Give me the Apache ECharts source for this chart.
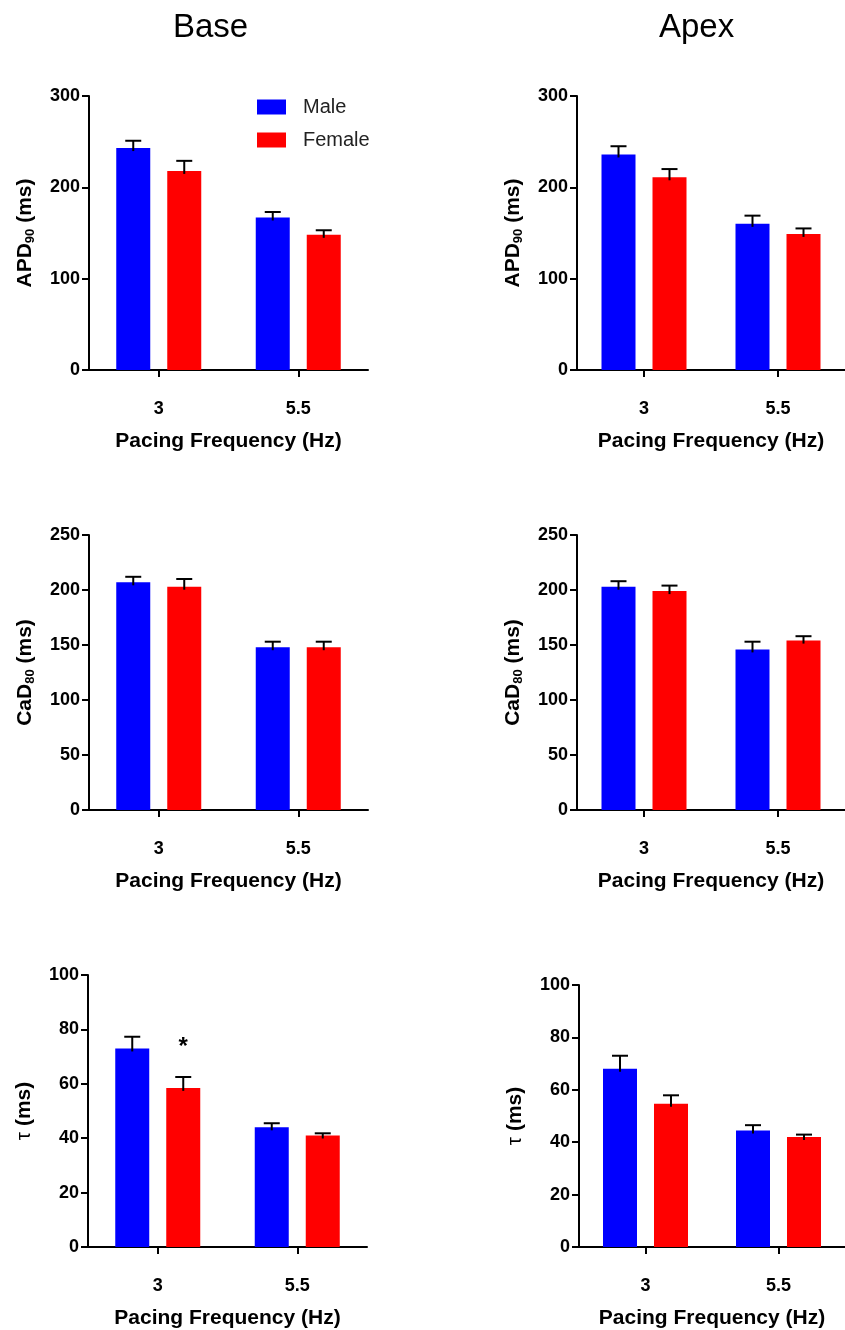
<!DOCTYPE html>
<html>
<head>
<meta charset="utf-8">
<script src="https://cdn.jsdelivr.net/npm/echarts@6/dist/echarts.min.js"></script>
<style>
html,body{margin:0;padding:0;background:#fff;}
#chart{width:845px;height:1330px;}
</style>
</head>
<body>
<div id="chart"></div>
<script>
// ---- data ----
var categories = ['3', '5.5'];
var seriesNames = ['Male', 'Female'];
var columnTitles = ['Base', 'Apex'];

var baseAPD90Male = [243, 167];
var baseAPD90MaleErr = [8, 6];
var baseAPD90Female = [218, 148];
var baseAPD90FemaleErr = [11, 5];

var apexAPD90Male = [236, 160];
var apexAPD90MaleErr = [9, 9];
var apexAPD90Female = [211, 149];
var apexAPD90FemaleErr = [9, 6];

var baseCaD80Male = [207, 148];
var baseCaD80MaleErr = [5, 5];
var baseCaD80Female = [203, 148];
var baseCaD80FemaleErr = [7, 5];

var apexCaD80Male = [203, 146];
var apexCaD80MaleErr = [5, 7];
var apexCaD80Female = [199, 154];
var apexCaD80FemaleErr = [5, 4];

var baseTauMale = [73, 44];
var baseTauMaleErr = [4.3, 1.5];
var baseTauFemale = [58.5, 41];
var baseTauFemaleErr = [4, 0.8];

var apexTauMale = [68, 44.5];
var apexTauMaleErr = [5, 2];
var apexTauFemale = [54.7, 42];
var apexTauFemaleErr = [3.2, 0.9];

// significance marks: panel index, category index, series index
var sigMarks = [{panel: 4, cat: 0, ser: 1, text: '*'}];

var yMax = [300, 300, 250, 250, 100, 100];
var yInterval = [100, 100, 50, 50, 20, 20];
var yTitles = ['{b|APD}{sub|90}{b| (ms)}', '{b|APD}{sub|90}{b| (ms)}',
               '{b|CaD}{sub|80}{b| (ms)}', '{b|CaD}{sub|80}{b| (ms)}',
               '{t|τ}{b| (ms)}', '{t|τ}{b| (ms)}'];
var xTitle = 'Pacing Frequency (Hz)';

var panels = [
  [baseAPD90Male, baseAPD90MaleErr, baseAPD90Female, baseAPD90FemaleErr],
  [apexAPD90Male, apexAPD90MaleErr, apexAPD90Female, apexAPD90FemaleErr],
  [baseCaD80Male, baseCaD80MaleErr, baseCaD80Female, baseCaD80FemaleErr],
  [apexCaD80Male, apexCaD80MaleErr, apexCaD80Female, apexCaD80FemaleErr],
  [baseTauMale, baseTauMaleErr, baseTauFemale, baseTauFemaleErr],
  [apexTauMale, apexTauMaleErr, apexTauFemale, apexTauFemaleErr]
];

// ---- layout / style ----
var FONT = '"Liberation Sans", Arial, Helvetica, sans-serif';
var grids = [
  {left: 89, top: 96, width: 279, height: 274},
  {left: 577, top: 96, width: 272, height: 274},
  {left: 89, top: 535, width: 279, height: 275},
  {left: 577, top: 535, width: 272, height: 275},
  {left: 88, top: 975, width: 279, height: 275},
  {left: 579, top: 985, width: 270, height: 267}
];
var colors = ['#0000FF', '#FF0000'];
var BAR_W = 34, BAR_GAP = 17;

var option = {
  animation: false,
  backgroundColor: '#ffffff',
  textStyle: {fontFamily: FONT},
  title: [
    {text: columnTitles[0], left: 168, top: 6, textStyle: {fontFamily: FONT, fontSize: 33, fontWeight: 'normal', color: '#000'}},
    {text: columnTitles[1], left: 654, top: 6, textStyle: {fontFamily: FONT, fontSize: 33, fontWeight: 'normal', color: '#000'}}
  ],
  legend: {
    data: seriesNames,
    orient: 'vertical',
    left: 257, top: 97, padding: 0,
    itemWidth: 29, itemHeight: 15, itemGap: 13,
    icon: 'rect',
    textStyle: {fontFamily: FONT, fontSize: 20, lineHeight: 16, color: '#222', padding: [0, 0, 0, 12]}
  },
  grid: grids,
  xAxis: [],
  yAxis: [],
  series: []
};

grids.forEach(function (g, i) {
  option.xAxis.push({
    type: 'category', gridIndex: i, data: categories,
    boundaryGap: true,
    axisLine: {show: true, lineStyle: {color: '#000', width: 2}},
    axisTick: {show: true, alignWithLabel: true, length: 7, lineStyle: {color: '#000', width: 2}},
    axisLabel: {margin: 30, fontFamily: FONT, fontSize: 18, fontWeight: 'bold', color: '#000'},
    name: xTitle, nameLocation: 'middle', nameGap: 61,
    nameTextStyle: {fontFamily: FONT, fontSize: 21, fontWeight: 'bold', color: '#000'},
    splitLine: {show: false}
  });
  option.yAxis.push({
    type: 'value', gridIndex: i, min: 0, max: yMax[i], interval: yInterval[i],
    axisLine: {show: true, lineStyle: {color: '#000', width: 2}},
    axisTick: {show: true, length: 7, lineStyle: {color: '#000', width: 2}},
    axisLabel: {margin: 9, fontFamily: FONT, fontSize: 18, fontWeight: 'bold', color: '#000'},
    splitLine: {show: false},
    name: yTitles[i], nameLocation: 'middle', nameGap: 52,
    nameTextStyle: {
      fontFamily: FONT, fontSize: 21, fontWeight: 'bold', color: '#000',
      rich: {
        b: {fontFamily: FONT, fontSize: 21, fontWeight: 'bold', color: '#000', lineHeight: 24, verticalAlign: 'middle'},
        t: {fontFamily: FONT, fontSize: 21, fontWeight: 'normal', color: '#000', lineHeight: 24, verticalAlign: 'middle'},
        sub: {fontFamily: FONT, fontSize: 13, fontWeight: 'bold', color: '#000', lineHeight: 13, verticalAlign: 'bottom', padding: [8, 0, 0, 0]}
      }
    }
  });

  var d = panels[i];
  [0, 1].forEach(function (s) {
    option.series.push({
      type: 'bar', name: seriesNames[s], xAxisIndex: i, yAxisIndex: i,
      data: d[s * 2], barWidth: BAR_W, barGap: (BAR_GAP / BAR_W * 100) + '%',
      itemStyle: {color: colors[s]},
      z: 2
    });
  });
  // error bars
  var errData = [];
  [0, 1].forEach(function (s) {
    d[s * 2].forEach(function (v, c) {
      var mark = '';
      sigMarks.forEach(function (m) { if (m.panel === i && m.cat === c && m.ser === s) mark = m.text; });
      errData.push([c, v, v + d[s * 2 + 1][c], s, mark]);
    });
  });
  option.series.push({
    type: 'custom', xAxisIndex: i, yAxisIndex: i, data: errData, z: 5,
    silent: true,
    renderItem: function (params, api) {
      var c = api.value(0), s = api.value(3);
      var off = (s === 0 ? -1 : 1) * (BAR_W + BAR_GAP) / 2;
      var p0 = api.coord([c, api.value(1)]);
      var p1 = api.coord([c, api.value(2)]);
      var x = p0[0] + off;
      var capHalf = 8;
      var children = [
        {type: 'line', shape: {x1: x, y1: p0[1] + 3, x2: x, y2: p1[1]}, style: {stroke: '#000', lineWidth: 2}},
        {type: 'line', shape: {x1: x - capHalf, y1: p1[1], x2: x + capHalf, y2: p1[1]}, style: {stroke: '#000', lineWidth: 2}}
      ];
      var mk = errData[params.dataIndex][4];
      if (mk) {
        children.push({type: 'text', style: {text: mk, x: x, y: p1[1] - 30, align: 'center', verticalAlign: 'middle',
          font: 'bold 24px ' + FONT, fill: '#000'}});
      }
      return {type: 'group', children: children};
    }
  });
});

var chart = echarts.init(document.getElementById('chart'), null, {renderer: 'canvas'});
chart.setOption(option);
</script>
</body>
</html>
